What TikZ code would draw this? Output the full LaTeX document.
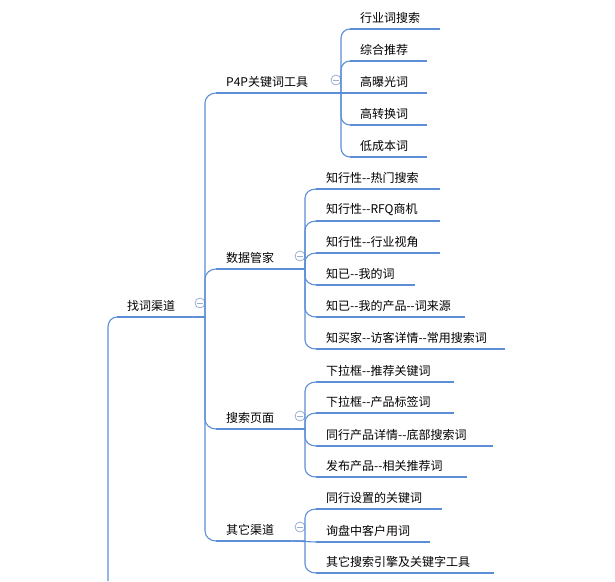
\documentclass[tikz,border=0pt]{standalone}
\usepackage{fontspec}
\setmainfont[Ligatures=TeXOff]{Noto Sans CJK SC}
\definecolor{mapblue}{HTML}{5B8ED6}
\definecolor{foldgray}{HTML}{9AAFD0}
\tikzset{
  topic/.style={anchor=south west, inner xsep=10pt, inner ysep=5pt, align=left,
                font=\fontsize{12}{14}\selectfont},
  uline/.style={mapblue, line width=2.8pt},
  link/.style={mapblue, line width=1.1pt},
  fold/.style={circle, draw=foldgray, line width=0.8pt, minimum size=10pt, inner sep=0pt,
               path picture={\draw[foldgray, line width=0.8pt]
               ([xshift=-3pt]path picture bounding box.center) -- ([xshift=3pt]path picture bounding box.center);}}
}
\begin{document}
\begin{tikzpicture}[x=1pt,y=-1pt]
  \useasboundingbox (0,0) rectangle (615,581);

  % root
  \node[topic, text width=55pt] (root) at (117,317) {找词渠道};
  \draw[uline] (root.south west) -- (root.south east);
  \node[fold] (rootf) at (200,303) {};
  \coordinate (rin) at (108,581);
  \draw[link] (rin) -- (108,327) to[out=90, in=180] (root.south west);

  % main branches
  \foreach \nm/\y/\r/\t in {p4p/93/328/P4P关键词工具, data/269/292/数据管家,
                            search/429/291/搜索页面, other/541/291/其它渠道} {
    \pgfmathsetmacro{\tw}{\r-216-20}
    \pgfmathsetmacro{\ang}{\y<317 ? 90 : -90}
    \pgfmathsetmacro{\ey}{\y<317 ? \y+10 : \y-10}
    \node[topic, text width=\tw pt] (\nm) at (216,\y) {\t};
    \draw[uline] (\nm.south west) -- (\nm.south east);
    \draw[link] (root.south east) -- (205,317) -- (205,\ey) to[out=\ang, in=180] (\nm.south west);
  }
  \node[fold] at (336,80) {};
  \node[fold] at (300,256) {};
  \node[fold] at (300,416) {};
  \node[fold] at (300,527) {};

  % leaves: parent / left / spine / parent y / name / y / right / text
  \foreach \pa/\l/\s/\pyy/\nm/\y/\r/\t in {
      p4p/350/341/93/a1/29/440/行业词搜索,
      p4p/350/341/93/a2/61/427/综合推荐,
      p4p/350/341/93/a3/93/427/高曝光词,
      p4p/350/341/93/a4/125/427/高转换词,
      p4p/350/341/93/a5/157/427/低成本词,
      data/316/305/269/b1/189/440/知行性--热门搜索,
      data/316/305/269/b2/221/440/知行性--RFQ商机,
      data/316/305/269/b3/253/440/知行性--行业视角,
      data/316/305/269/b4/285/415/知已--我的词,
      data/316/305/269/b5/317/465/知已--我的产品--词来源,
      data/316/305/269/b6/349/505/知买家--访客详情--常用搜索词,
      search/316/305/429/c1/382/454/下拉框--推荐关键词,
      search/316/305/429/c2/413/454/下拉框--产品标签词,
      search/316/305/429/c3/446/493/同行产品详情--底部搜索词,
      search/316/305/429/c4/477/467/发布产品--相关推荐词,
      other/316/305/541/d1/509/442/同行设置的关键词,
      other/316/305/541/d2/542/430/询盘中客户用词,
      other/316/305/541/d3/573/494/其它搜索引擎及关键字工具} {
    \pgfmathsetmacro{\tw}{\r-\l-20}
    \pgfmathsetmacro{\ang}{\y<\pyy ? 90 : -90}
    \pgfmathsetmacro{\ey}{\y<\pyy ? \y+9 : \y-9}
    \pgfmathsetmacro{\dy}{abs(\y-\pyy)}
    \node[topic, text width=\tw pt] (\nm) at (\l,\y) {\t};
    \draw[uline] (\nm.south west) -- (\nm.south east);
    \ifdim\dy pt<2pt
      \draw[link] (\pa.south east) -- (\nm.south west);
    \else
      \draw[link] (\pa.south east) -- (\s,\pyy) -- (\s,\ey) to[out=\ang, in=180] (\nm.south west);
    \fi
  }
\end{tikzpicture}
\end{document}
